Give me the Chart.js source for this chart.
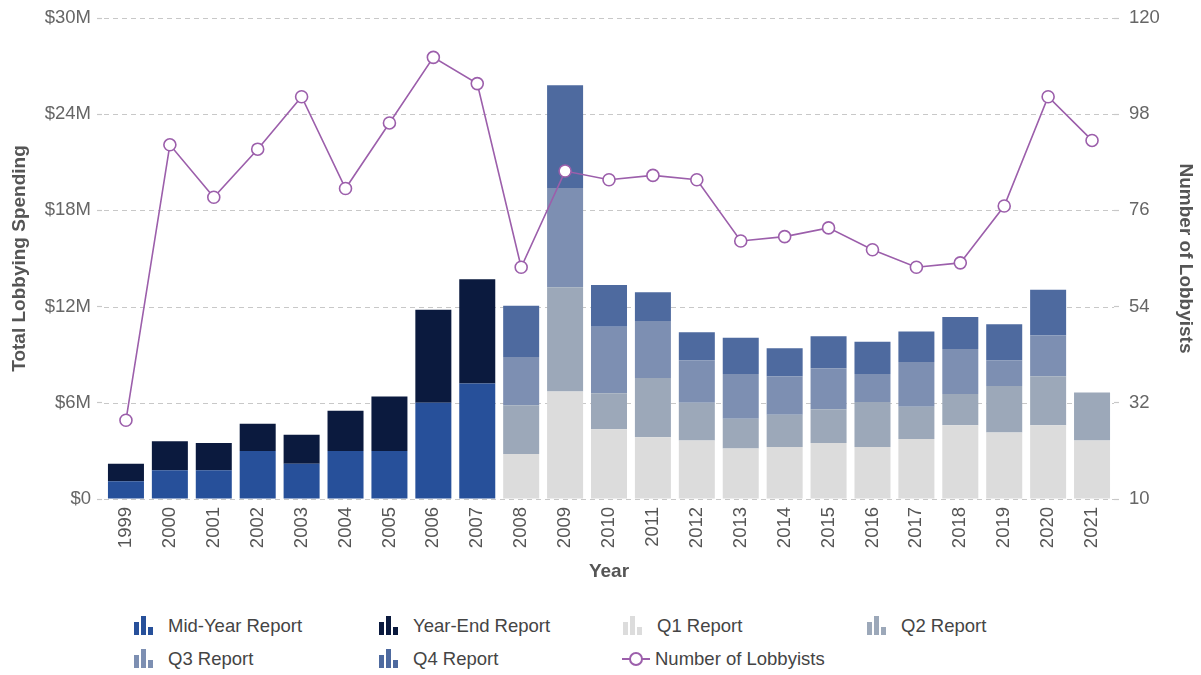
<!DOCTYPE html>
<html>
<head>
<meta charset="utf-8">
<script src="https://cdn.jsdelivr.net/npm/chart.js@4/dist/chart.umd.min.js"></script>
<style>
    html, body { margin: 0; padding: 0; background: #fff; }
    body { width: 1201px; height: 675px; position: relative; overflow: hidden;
           font-family: 'Liberation Sans', Arial, sans-serif; }
    #wrap { position: absolute; left: 0; top: 0; width: 1201px; height: 592px; }
    #legend { position: absolute; left: 133px; top: 614px; width: 1000px;
              display: grid; grid-template-columns: 245px 244px 244px 244px; row-gap: 10px; }
    .item { display: flex; align-items: center; font-size: 18.5px; color: #444; height: 23px; white-space: nowrap; }
    .icon { position: relative; width: 24px; height: 20px; margin-right: 11px; flex: none; }
    .icon span { position: absolute; bottom: 1px; width: 5px; }
    .lineicon { position: relative; width: 28px; height: 20px; margin-right: 5px; flex: none; }
    .lineicon .l { position: absolute; left: 0; right: 0; top: 9px; height: 2px; }
    .lineicon .c { position: absolute; left: 7px; top: 3px; width: 10px; height: 10px;
                   border: 2px solid; border-radius: 50%; background: #fff; }
</style>
</head>
<body>
<div id="wrap"><canvas id="chart"></canvas></div>
<div id="legend"></div>

<script>
// ─── Data ──────────────────────────────────────────────────

const YEARS = ['1999','2000','2001','2002','2003','2004','2005','2006','2007','2008','2009',
    '2010','2011','2012','2013','2014','2015','2016','2017','2018','2019','2020','2021'];

// spending in $M, semi-annual reports up to 2007, quarterly afterwards
const MID_YEAR = [1.1, 1.8, 1.8, 3.0, 2.2, 3.0, 3.0, 6.0, 7.2, null, null, null, null, null, null, null, null, null, null, null, null, null, null];
const YEAR_END = [1.1, 1.8, 1.7, 1.7, 1.8, 2.5, 3.4, 5.8, 6.5, null, null, null, null, null, null, null, null, null, null, null, null, null, null];
const Q1 = [null, null, null, null, null, null, null, null, null, 2.8, 6.7, 4.35, 3.85, 3.65, 3.15, 3.25, 3.5, 3.25, 3.75, 4.6, 4.15, 4.6, 3.65];
const Q2 = [null, null, null, null, null, null, null, null, null, 3.05, 6.5, 2.25, 3.7, 2.35, 1.85, 2.0, 2.1, 2.8, 2.0, 1.95, 2.9, 3.05, 3.0];
const Q3 = [null, null, null, null, null, null, null, null, null, 3.0, 6.2, 4.15, 3.55, 2.65, 2.8, 2.4, 2.55, 1.75, 2.8, 2.8, 1.6, 2.55, null];
const Q4 = [null, null, null, null, null, null, null, null, null, 3.2, 6.4, 2.6, 1.8, 1.75, 2.25, 1.75, 2.0, 2.0, 1.9, 2.0, 2.25, 2.85, null];

const LOBBYISTS = [28, 91, 79, 90, 102, 81, 96, 111, 105, 63, 85, 83, 84, 83, 69, 70, 72, 67, 63, 64, 77, 102, 92];

const SPEND_TICKS = [0, 6, 12, 18, 24, 30];
const LOBBY_TICKS = [10, 32, 54, 76, 98, 120];

const COLORS = {
    mid: '#27509a',
    yearEnd: '#0b1a3e',
    q1: '#dcdcdc',
    q2: '#9ca8b9',
    q3: '#7d8fb2',
    q4: '#4e6a9f',
    line: '#9c5fab',
    grid: '#c8c8c8',
};

// ─── Chart ─────────────────────────────────────────────────

Chart.defaults.font.family = "'Liberation Sans', Arial, sans-serif";
Chart.defaults.color = '#666';

const TICK_FONT = { size: 18.5 };
const TITLE_FONT = { size: 19, weight: 'bold' };

const toM = arr => arr.map(v => v == null ? null : v * 1e6);

function barSet(label, data, color) {
    return {
        type: 'bar', label, data: toM(data), backgroundColor: color,
        stack: 's', yAxisID: 'y', order: 2,
        barPercentage: 0.82, categoryPercentage: 1.0,
    };
}

new Chart(document.getElementById('chart'), {
    data: {
        labels: YEARS,
        datasets: [
            {
                type: 'line', label: 'Number of Lobbyists', data: LOBBYISTS,
                yAxisID: 'y1', order: 1,
                borderColor: COLORS.line, borderWidth: 1.6,
                pointBackgroundColor: '#fff', pointBorderColor: COLORS.line,
                pointBorderWidth: 1.6, pointRadius: 6, tension: 0,
            },
            barSet('Mid-Year Report', MID_YEAR, COLORS.mid),
            barSet('Year-End Report', YEAR_END, COLORS.yearEnd),
            barSet('Q1 Report', Q1, COLORS.q1),
            barSet('Q2 Report', Q2, COLORS.q2),
            barSet('Q3 Report', Q3, COLORS.q3),
            barSet('Q4 Report', Q4, COLORS.q4),
        ],
    },
    options: {
        responsive: true,
        maintainAspectRatio: false,
        animation: false,
        layout: { padding: { top: 18, left: 0, right: 0, bottom: 0 } },
        plugins: { legend: { display: false }, tooltip: { enabled: false } },
        scales: {
            x: {
                stacked: true,
                afterFit: axis => { axis.height = 93; },
                grid: { display: false, drawTicks: false },
                border: { display: false },
                ticks: { font: TICK_FONT, color: '#555', minRotation: 90, maxRotation: 90, padding: 8 },
                title: { display: true, text: 'Year', font: TITLE_FONT, color: '#555', padding: { top: 4, bottom: 9 } },
            },
            y: {
                stacked: true,
                position: 'left',
                min: 0, max: 30e6,
                afterFit: axis => { axis.width = 104; },
                afterBuildTicks: axis => { axis.ticks = SPEND_TICKS.map(v => ({ value: v * 1e6 })); },
                grid: { drawOnChartArea: false, tickLength: 7, tickBorderDash: [5, 4], tickColor: COLORS.grid, tickWidth: 1.2 },
                border: { display: false },
                ticks: { font: TICK_FONT, color: '#666', padding: 6,
                         callback: v => v === 0 ? '$0' : '$' + (v / 1e6) + 'M' },
                title: { display: true, text: 'Total Lobbying Spending', font: TITLE_FONT, color: '#555', padding: { top: 8 } },
            },
            y1: {
                position: 'right',
                min: 10, max: 120,
                afterFit: axis => { axis.width = 87; },
                afterBuildTicks: axis => { axis.ticks = LOBBY_TICKS.map(v => ({ value: v })); },
                grid: { drawOnChartArea: false, tickLength: 9, tickBorderDash: [5, 4], tickColor: COLORS.grid, tickWidth: 1.2 },
                border: { display: false },
                ticks: { font: TICK_FONT, color: '#666', padding: 6 },
                title: { display: true, text: 'Number of Lobbyists', font: TITLE_FONT, color: '#555', padding: { top: 4 } },
            },
        },
    },
    plugins: [{
        // dashed horizontal gridlines across the plot, under the bars
        id: 'dashGrid',
        beforeDatasetsDraw(chart) {
            const { ctx, chartArea, scales } = chart;
            ctx.save();
            ctx.strokeStyle = COLORS.grid;
            ctx.lineWidth = 1.2;
            ctx.setLineDash([5, 4]);
            SPEND_TICKS.forEach(v => {
                const y = Math.round(scales.y.getPixelForValue(v * 1e6)) + 0.5;
                ctx.beginPath();
                ctx.moveTo(chartArea.left, y);
                ctx.lineTo(chartArea.right, y);
                ctx.stroke();
            });
            ctx.restore();
        },
    }],
});

// ─── Legend ───────────────────────────────────────────────

const LEGEND = [
    ['Mid-Year Report', COLORS.mid], ['Year-End Report', COLORS.yearEnd],
    ['Q1 Report', COLORS.q1], ['Q2 Report', COLORS.q2],
    ['Q3 Report', COLORS.q3], ['Q4 Report', COLORS.q4],
    ['Number of Lobbyists', COLORS.line, true],
];

const legendEl = document.getElementById('legend');
LEGEND.forEach(([text, color, isLine]) => {
    const item = document.createElement('div');
    item.className = 'item';
    if (isLine) {
        item.innerHTML = `<div class="lineicon"><div class="l" style="background:${color}"></div>` +
            `<div class="c" style="border-color:${color}"></div></div>`;
    } else {
        item.innerHTML = `<div class="icon">` +
            `<span style="left:1px;height:13px;background:${color}"></span>` +
            `<span style="left:8px;height:19px;background:${color}"></span>` +
            `<span style="left:15px;height:8px;background:${color}"></span></div>`;
    }
    const label = document.createElement('span');
    label.textContent = text;
    item.appendChild(label);
    legendEl.appendChild(item);
});
</script>
</body>
</html>
